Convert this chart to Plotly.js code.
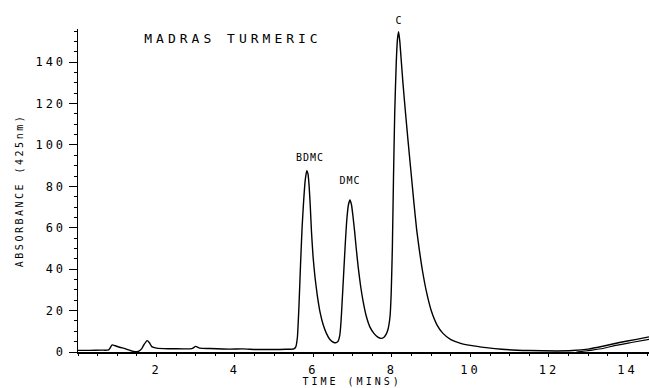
<!DOCTYPE html>
<html>
<head>
<meta charset="utf-8">
<script src="https://cdn.plot.ly/plotly-3.0.1.min.js"></script>
<style>
  html, body { margin: 0; padding: 0; background: #fff; }
  #chart { width: 649px; height: 388px; }
</style>
</head>
<body>
<div id="chart"></div>
<script>
// Retention time (minutes) and absorbance
const timeMin = [0.0, 0.3, 0.6, 0.78, 0.87, 0.95, 1.06, 1.2, 1.35, 1.44, 1.55, 1.62, 1.68, 1.76, 1.82, 1.88, 2.0, 2.3, 2.7, 2.9, 3.0, 3.1, 3.35, 3.86, 4.2, 4.54, 5.0, 5.3, 5.50,
  5.55, 5.59, 5.63, 5.67, 5.71, 5.75, 5.79, 5.83, 5.86, 5.89, 5.92, 5.95, 5.99, 6.04, 6.10, 6.17, 6.25, 6.33, 6.42, 6.52, 6.58,
  6.63, 6.67, 6.70, 6.73, 6.77, 6.81, 6.85, 6.89, 6.93, 6.97, 7.01, 7.05, 7.09, 7.14, 7.20, 7.27, 7.35, 7.44, 7.54, 7.64, 7.72,
  7.79, 7.85, 7.90, 7.95, 7.98, 8.01, 8.04, 8.07, 8.11, 8.14, 8.17, 8.20, 8.24, 8.28, 8.32, 8.40, 8.48, 8.56, 8.63, 8.70, 8.78,
  8.88, 9.0, 9.15, 9.3, 9.5, 9.75, 10.0, 10.4, 10.8, 11.5, 12.2, 12.6, 13.0, 13.4, 13.8, 14.2, 14.55];
const absorbance = [0.8, 0.8, 0.9, 1.0, 3.4, 3.0, 2.3, 1.6, 0.6, 0.1, 0.4, 1.5, 3.5, 5.5, 4.5, 2.6, 1.9, 1.6, 1.5, 1.6, 2.7, 1.9, 1.7, 1.4, 1.5, 1.2, 1.2, 1.3, 1.5,
  2.5, 7, 22, 42, 60, 73, 83, 87.6, 86, 80, 70, 58, 46, 36, 27, 19, 13, 9, 6, 4.6, 4.5,
  5.2, 8, 14, 24, 38, 52, 64, 71, 73.4, 71, 65, 58, 50, 41, 32, 24, 17, 12, 9, 7.2, 6.6,
  7, 8.5, 11, 17, 28, 50, 85, 115, 140, 151, 154.7, 150, 140, 130, 121, 104, 88, 72, 59, 49, 39,
  29, 20, 13, 9, 6, 4.2, 3.2, 2.1, 1.3, 0.7, 0.5, 0.7, 1.4, 2.9, 4.6, 6.0, 7.3];

// second pen stroke visible near the end of the run
const tailTime = [12.7, 13.1, 13.4, 13.7, 14.1, 14.55];
const tailAbs = [0.0, 0.9, 1.8, 3.2, 4.6, 6.1];

// peak labels (name, time, label height in absorbance units)
const peakNames = ["BDMC", "DMC", "C"];
const peakTimes = [5.90, 6.94, 8.17];
const labelHeights = [93.7, 82.6, 160.3];

const xTickVals = [2, 4, 6, 8, 10, 12, 14];
const xTickText = ["2", "4", "6", "8", "10", "12", "14"];
const yTickVals = [0, 20, 40, 60, 80, 100, 120, 140];
const yTickText = ["0", "20", "40", "60", "80", "100", "120", "140"];

const Y_MAX = 156;
const FONT = "DejaVu Sans Mono, monospace";

const traces = [
  { x: timeMin, y: absorbance, type: "scatter", mode: "lines",
    line: { color: "#000", width: 1.4, shape: "spline", smoothing: 0.5 }, hoverinfo: "skip", showlegend: false },
  { x: tailTime, y: tailAbs, type: "scatter", mode: "lines",
    line: { color: "#000", width: 1.2, shape: "spline", smoothing: 0.6 }, hoverinfo: "skip", showlegend: false }
];

const annotations = peakNames.map((n, i) => ({
  x: peakTimes[i], y: labelHeights[i] / Y_MAX, xref: "x", yref: "paper",
  text: n, showarrow: false, yanchor: "middle", xanchor: "center",
  font: { family: FONT, size: 10, color: "#000" }
}));
annotations.push({
  x: 6.97, y: (352 - 381) / 323, xref: "x", yref: "paper",
  text: "TIME (MINS)", showarrow: false, xanchor: "center", yanchor: "middle",
  font: { family: FONT, size: 10, color: "#000" }
});

const layout = {
  width: 649, height: 388,
  margin: { l: 78, r: 0, t: 29, b: 36 },
  paper_bgcolor: "#fff", plot_bgcolor: "#fff",
  showlegend: false,
  font: { family: FONT, color: "#000" },
  title: { text: "MADRAS TURMERIC", xref: "container", yref: "container",
           x: 233 / 649, y: 1 - 38 / 388, xanchor: "center", yanchor: "middle",
           font: { family: FONT, size: 13, color: "#000" } },
  xaxis: {
    range: [0, 14.55], showgrid: false, zeroline: false,
    showline: true, linecolor: "#000", linewidth: 2,
    ticks: "outside", ticklen: 3, tickcolor: "#000", tickwidth: 1,
    tickvals: xTickVals, ticktext: xTickText,
    ticklabelstandoff: 3,
    minor: { dtick: 0.5, ticks: "outside", ticklen: 2, tickcolor: "#000" },
    tickfont: { family: FONT, size: 12, color: "#000" }
  },
  yaxis: {
    range: [0, Y_MAX], showgrid: false, zeroline: false,
    showline: true, linecolor: "#000", linewidth: 1.5,
    ticks: "outside", ticklen: 8, tickcolor: "#000", tickwidth: 1,
    tickvals: yTickVals, ticktext: yTickText,
    minor: { dtick: 5, ticks: "outside", ticklen: 3, tickcolor: "#000" },
    tickfont: { family: FONT, size: 12, color: "#000" },
    title: { text: "ABSORBANCE (425nm)", standoff: 19, font: { family: FONT, size: 10, color: "#000" } }
  },
  annotations: annotations
};

Plotly.newPlot("chart", traces, layout, { staticPlot: true, displayModeBar: false }).then(() => {
  const setLS = (sel, v) => document.querySelectorAll(sel).forEach(t => { t.style.letterSpacing = v; });
  setLS("text.gtitle", "4px");
  setLS("text.ytitle", "2.5px");
  setLS(".xtick text", "3px");
  setLS(".ytick text", "3px");
  document.querySelectorAll(".annotation-text").forEach(t => {
    t.style.letterSpacing = (t.textContent === "TIME (MINS)") ? "3px" : "1px";
  });
});
</script>
</body>
</html>
